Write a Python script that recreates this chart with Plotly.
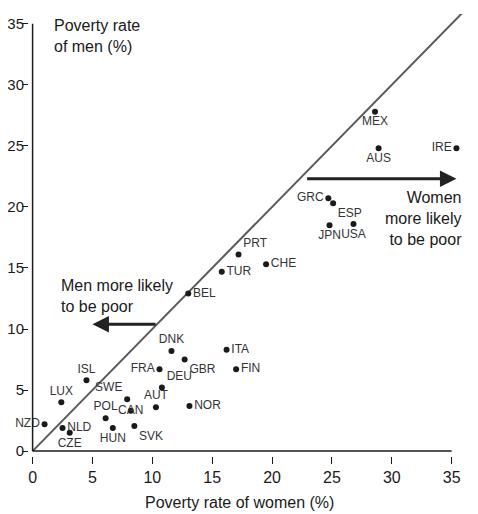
import plotly.graph_objects as go

countries = ["MEX", "AUS", "IRE", "GRC", "ESP", "JPN", "USA", "PRT", "TUR", "CHE",
             "BEL", "DNK", "GBR", "ITA", "FIN", "FRA", "DEU", "NOR", "AUT", "SWE",
             "CAN", "POL", "HUN", "SVK", "LUX", "ISL", "NZD", "NLD", "CZE"]
women = [28.6, 28.9, 35.4, 24.7, 25.1, 24.8, 26.8, 17.2, 15.8, 19.5,
         13.0, 11.6, 12.7, 16.2, 17.0, 10.6, 10.8, 13.1, 10.3, 7.9,
         8.2, 6.1, 6.7, 8.5, 2.4, 4.5, 1.0, 2.5, 3.1]
men = [27.8, 24.8, 24.8, 20.7, 20.3, 18.5, 18.6, 16.1, 14.7, 15.3,
       12.9, 8.2, 7.5, 8.3, 6.7, 6.7, 5.2, 3.7, 3.6, 4.25,
       3.3, 2.7, 1.9, 2.05, 4.0, 5.8, 2.2, 1.9, 1.5]
label_pos = ["bottom center", "bottom center", "middle left", "middle left", "bottom right",
             "bottom center", "bottom center", "top right", "middle right", "middle right",
             "middle right", "top center", "bottom right", "middle right", "middle right",
             "middle left", "top right", "middle right", "top center", "top left",
             "middle center", "top center", "bottom center", "bottom right", "top center",
             "top center", "middle left", "middle right", "bottom center"]

ticks = [0, 5, 10, 15, 20, 25, 30, 35]
diag = [0, 38]

FONT = "Liberation Sans, Arial, sans-serif"
INK = "#1a1a1a"

fig = go.Figure()
fig.add_trace(go.Scatter(
    x=diag, y=diag, mode="lines",
    line=dict(color="#5a5a5a", width=2), hoverinfo="skip", showlegend=False))
fig.add_trace(go.Scatter(
    x=women, y=men, mode="markers+text", text=countries,
    textposition=label_pos, cliponaxis=False,
    textfont=dict(family=FONT, size=12, color="#333333"),
    marker=dict(color=INK, size=6),
    showlegend=False))

# axis lines drawn from 0 to 35
fig.add_shape(type="line", x0=0, x1=ticks[-1], y0=0, y1=0, xref="x", yref="y",
              line=dict(color=INK, width=1.5))
fig.add_shape(type="line", x0=0, x1=0, y0=0, y1=ticks[-1], xref="x", yref="y",
              line=dict(color=INK, width=1.5))

# arrows
fig.add_annotation(x=35.4, y=22.3, ax=22.8, ay=22.3, xref="x", yref="y",
                   axref="x", ayref="y", showarrow=True, arrowhead=2,
                   arrowsize=1.1, arrowwidth=3, arrowcolor="#222222", text="")
fig.add_annotation(x=5.0, y=10.4, ax=10.4, ay=10.4, xref="x", yref="y",
                   axref="x", ayref="y", showarrow=True, arrowhead=2,
                   arrowsize=1.1, arrowwidth=3, arrowcolor="#222222", text="")

fig.add_annotation(x=36.0, y=21.6, xref="x", yref="y", xanchor="right", yanchor="top",
                   text="Women<br>more likely<br>to be poor", showarrow=False, align="right",
                   font=dict(family=FONT, size=16, color=INK))
fig.add_annotation(x=2.2, y=14.4, xref="x", yref="y", xanchor="left", yanchor="top",
                   text="Men more likely<br>to be poor", showarrow=False, align="left",
                   font=dict(family=FONT, size=16, color=INK))
fig.add_annotation(x=1.6, y=35.7, xref="x", yref="y", xanchor="left", yanchor="top",
                   text="Poverty rate<br>of men (%)", showarrow=False, align="left",
                   font=dict(family=FONT, size=16, color=INK))
fig.add_annotation(x=17.3, y=-0.106, xref="x", yref="paper", xanchor="center", yanchor="middle",
                   text="Poverty rate of women (%)", showarrow=False,
                   font=dict(family=FONT, size=16, color=INK))

# page body adds an 8px offset, so the figure is drawn 8px smaller
fig.update_layout(
    width=470, height=506,
    margin=dict(l=21, r=0, t=6, b=58),
    paper_bgcolor="white", plot_bgcolor="white",
    font=dict(family=FONT, size=15, color=INK),
    xaxis=dict(range=[-0.3, 37.2], tickvals=ticks, ticks="outside", ticklen=7,
               tickcolor=INK, showgrid=False, zeroline=False, showline=False,
               automargin=False, tickfont=dict(size=16)),
    yaxis=dict(range=[-0.4, 35.8], tickvals=ticks, ticks="outside", ticklen=6,
               tickcolor=INK, showgrid=False, zeroline=False, showline=False,
               automargin=False, tickfont=dict(size=15), ticklabelstandoff=-5),
)

fig.write_html("out.html")
